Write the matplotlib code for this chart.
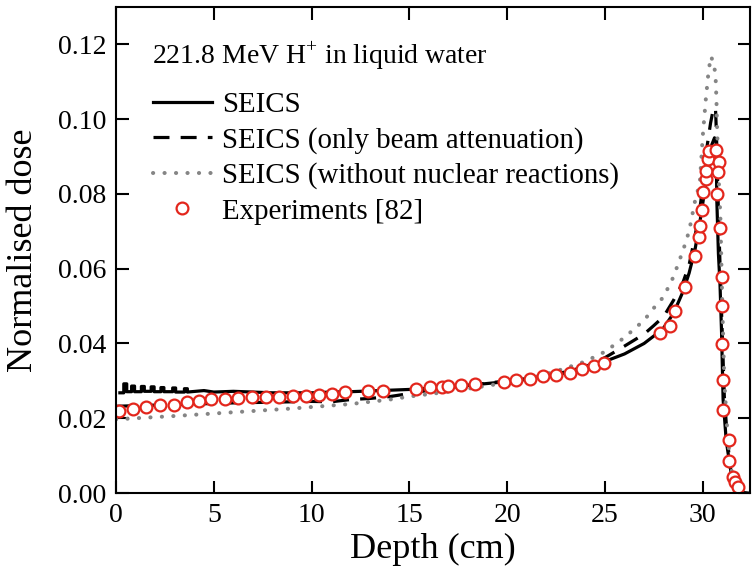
import numpy as np
import matplotlib
matplotlib.use("Agg")
import matplotlib.pyplot as plt

plt.rcParams['font.family'] = ['Liberation Serif', 'DejaVu Serif']
plt.rcParams['mathtext.fontset'] = 'custom'
plt.rcParams['mathtext.rm'] = 'Liberation Serif'

# SEICS, full simulation (noisy histogram bins near the entrance)
depth_full = [0.2, 0.4, 0.4, 0.55, 0.55, 0.8, 0.8, 0.95, 0.95, 1.3, 1.3, 1.45, 1.45,
              1.8, 1.8, 1.95, 1.95, 2.3, 2.3, 2.45, 2.45, 2.9, 2.9, 3.05, 3.05, 3.5,
              3.5, 3.65, 3.65, 4.5,
              5, 6, 7, 8, 9, 10, 11, 12, 13, 14, 15, 16, 17, 18, 19, 20, 21, 22, 23,
              24, 25, 26, 27, 27.5, 28, 28.5, 29, 29.3, 29.6, 29.9, 30.1, 30.3, 30.45,
              30.6, 30.68, 30.72, 30.8, 30.88, 30.96, 31.04, 31.2, 31.4, 31.6, 31.8, 32.3]
dose_full = [0.0268, 0.0268, 0.0292, 0.0292, 0.0271, 0.0271, 0.0286, 0.0286, 0.0271,
             0.0271, 0.0285, 0.0285, 0.0272, 0.0272, 0.0284, 0.0284, 0.0271, 0.0271,
             0.0282, 0.0282, 0.0271, 0.0271, 0.0281, 0.0281, 0.0270, 0.0270, 0.0279,
             0.0279, 0.0270, 0.0274,
             0.0270, 0.0272, 0.0270, 0.0268,
             0.0268, 0.0268, 0.0270, 0.0271, 0.0273, 0.0275, 0.0277, 0.0280, 0.0283,
             0.0288, 0.0293, 0.0298, 0.0304, 0.0312, 0.0321, 0.0333, 0.0352, 0.0372,
             0.0400, 0.0420, 0.0442, 0.0480, 0.0540, 0.0588, 0.0650, 0.0740, 0.0810,
             0.0880, 0.0930, 0.0950, 0.0940, 0.0780, 0.0640, 0.0560, 0.0430, 0.0250,
             0.0140, 0.0070, 0.0020, 0.0003, 0.0]

# SEICS, only beam attenuation
depth_att = [0, 2, 4, 6, 8, 10, 11, 12, 13, 14, 15, 16, 17, 18, 19, 20, 21, 22, 23, 24,
             25, 26, 27, 27.5, 28, 28.5, 29, 29.3, 29.5, 29.8, 30.0, 30.2, 30.4, 30.55,
             30.65, 30.7, 30.8, 30.9, 31.0, 31.1, 31.25, 31.4, 31.55, 31.7, 32.0]
dose_att = [0.0232, 0.0235, 0.0238, 0.0241, 0.0243, 0.0245, 0.0244, 0.0250, 0.0253,
            0.0258, 0.0266, 0.0275, 0.0282, 0.0288, 0.0294, 0.0300, 0.0306, 0.0314,
            0.0324, 0.0338, 0.0362, 0.0393, 0.0425, 0.0448, 0.0472, 0.0515, 0.0565,
            0.0610, 0.0660, 0.0740, 0.0820, 0.0920, 0.0990, 0.1030, 0.1030, 0.0960,
            0.0750, 0.0580, 0.0420, 0.0260, 0.0150, 0.0070, 0.0030, 0.0008, 0.0]

# SEICS without nuclear reactions
depth_nonuc = [0, 3, 6, 9, 12, 14, 15, 17, 19, 20, 21, 22, 23, 24, 25, 26, 27, 27.5,
               28, 28.5, 29, 29.3, 29.6, 29.85, 30.0, 30.15, 30.3, 30.42, 30.55, 30.65,
               30.7, 30.73, 30.83, 30.9, 31.0, 31.1, 31.25, 31.4, 31.6, 31.8, 32.3]
dose_nonuc = [0.0197, 0.0206, 0.0216, 0.0226, 0.0238, 0.0250, 0.0258, 0.0271, 0.0287,
              0.0296, 0.0306, 0.0318, 0.0334, 0.0352, 0.0378, 0.0416, 0.0462, 0.0495,
              0.0525, 0.0578, 0.0650, 0.0700, 0.0780, 0.0830, 0.0955, 0.1050, 0.1130,
              0.1168, 0.1150, 0.1120, 0.1050, 0.0980, 0.0820, 0.0740, 0.0500, 0.0300,
              0.0170, 0.0080, 0.0025, 0.0006, 0.0]

# measured depth-dose points
depth_exp = [0.17, 0.85, 1.52, 2.26, 2.98, 3.62, 4.26, 4.87, 5.59, 6.23, 6.95, 7.65,
             8.31, 9.03, 9.74, 10.39, 11.05, 11.72, 12.89, 13.63, 15.33, 16.04, 16.66,
             17.0, 17.63, 18.36, 19.83, 20.44, 21.19, 21.84, 22.50, 23.2, 23.85, 24.44,
             24.95, 27.8, 28.34, 28.6, 29.08, 29.59, 29.79, 29.88, 29.96, 30.03, 30.16,
             30.15, 30.27, 30.32, 30.66, 30.83, 30.76, 30.75, 30.90, 31.0, 31.0, 30.98,
             31.02, 31.02, 31.36, 31.36, 31.54, 31.67, 31.82]
dose_exp = [0.0220, 0.0224, 0.0229, 0.0235, 0.0236, 0.0243, 0.0246, 0.0251, 0.0252,
            0.0253, 0.0256, 0.0258, 0.0258, 0.0260, 0.0260, 0.0263, 0.0265, 0.0271,
            0.0272, 0.0274, 0.0278, 0.0283, 0.0283, 0.0285, 0.0288, 0.0291, 0.0297,
            0.0302, 0.0306, 0.0313, 0.0316, 0.0322, 0.0333, 0.0341, 0.0348, 0.0428,
            0.0448, 0.0487, 0.0552, 0.0635, 0.0685, 0.0713, 0.0758, 0.0805, 0.0839,
            0.0862, 0.0894, 0.0914, 0.0918, 0.0885, 0.0859, 0.0801, 0.0708, 0.0579,
            0.0501, 0.0399, 0.0303, 0.0222, 0.0142, 0.0085, 0.0044, 0.0030, 0.0015]

fig = plt.figure(figsize=(7.55, 5.79), dpi=100)
ax = fig.add_axes([0.1536, 0.1485, 0.8394, 0.8395])

lw = 2.3
ax.plot(depth_full, dose_full, color='black', lw=lw, label='SEICS')
ax.plot(depth_att, dose_att, color='black', lw=lw, linestyle=(0, (5, 3.5)),
        label='SEICS (only beam attenuation)')
ax.plot(depth_nonuc, dose_nonuc, color='#858585', lw=2.9, linestyle=(0, (0.05, 2.8)),
        dash_capstyle='round', label='SEICS (without nuclear reactions)')
ax.plot(depth_exp, dose_exp, 'o', ms=8.5, mfc='white', mec='#e3261c', mew=1.6,
        label='Experiments [82]')

ax.set_xlim(0, 32.4)
ax.set_ylim(0, 0.13)
ax.set_xticks([0, 5, 10, 15, 20, 25, 30])
ax.set_yticks(np.arange(0, 0.121, 0.02))
ax.set_yticklabels(['%.2f' % v for v in np.arange(0, 0.121, 0.02)])
ax.tick_params(direction='in', length=9, width=1.5, labelsize=20,
               top=True, right=True, pad=7)
for s in ax.spines.values():
    s.set_linewidth(1.5)

ax.set_xlabel('Depth (cm)', fontsize=26, labelpad=4)
ax.set_ylabel('Normalised dose', fontsize=26, labelpad=13)

ax.text(0.057, 0.90, '221.8 MeV H$^{+}$ in liquid water', transform=ax.transAxes,
        fontsize=20, va='center', ha='left')
ax.legend(loc='upper left', bbox_to_anchor=(0.04, 0.85), frameon=False, fontsize=20.8,
          handlelength=2.05, handletextpad=0.33, labelspacing=0.31, borderaxespad=0)

fig.savefig('out.png', dpi=100)
